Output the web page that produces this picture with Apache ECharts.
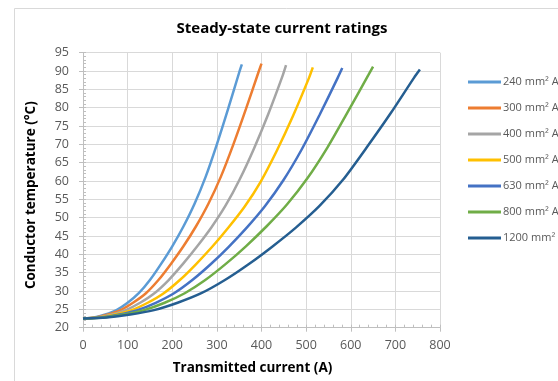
<!DOCTYPE html>
<html>
<head>
<meta charset="utf-8">
<script src="https://cdn.jsdelivr.net/npm/echarts@6/dist/echarts.min.js"></script>
<style>
  html, body {margin:0; padding:0; background:#fff;}
  #chart {width:558px; height:381px;}
</style>
</head>
<body>
<div id="chart"></div>
<script type="text/javascript">
// cable sizes shown in the legend
var cableNames = ['240 mm\u00b2 Al', '300 mm\u00b2 Al', '400 mm\u00b2 Al', '500 mm\u00b2 Al',
                  '630 mm\u00b2 Al', '800 mm\u00b2 Al', '1200 mm\u00b2 Al'];
var cableColors = ['#5b9bd5', '#ed7d31', '#a5a5a5', '#ffc000', '#4472c4', '#70ad47', '#255e91'];

// [current (A), conductor temperature (°C)]
var c240 = [[0,22.5],[25,22.8],[50,23.6],[75,24.8],[100,26.8],[125,29.4],[150,33.0],[175,37.4],
            [200,42.2],[225,47.6],[250,53.8],[275,61.2],[300,70.0],[325,79.6],[350,89.6],[356,91.8]];
var c300 = [[0,22.5],[28,22.8],[56,23.6],[84,24.8],[112,26.8],[141,29.4],[169,33.0],[197,37.4],
            [225,42.2],[253,47.6],[281,53.8],[309,61.2],[337,70.0],[365,79.6],[393,89.6],[400,92.0]];
var c400 = [[0,22.5],[32,22.8],[64,23.6],[96,24.8],[128,26.8],[160,29.4],[192,33.0],[224,37.4],
            [256,42.2],[288,47.4],[320,53.4],[351,60.4],[383,68.8],[415,78.2],[447,88.6],[455,91.6]];
var c500 = [[0,22.5],[36,22.8],[72,23.6],[109,24.8],[145,26.8],[181,29.4],[217,33.0],[253,37.3],
            [289,42.0],[325,47.2],[362,53.0],[398,59.8],[434,68.2],[470,77.6],[506,88.0],[515,91.0]];
var c630 = [[0,22.5],[41,22.8],[82,23.6],[122,24.8],[163,26.8],[204,29.4],[245,33.0],[286,37.3],
            [326,42.0],[367,47.3],[408,53.2],[449,60.2],[490,68.6],[530,78.0],[571,88.2],[581,90.8]];
var c800 = [[0,22.5],[46,22.8],[91,23.6],[137,24.8],[183,26.8],[228,29.4],[274,33.0],[320,37.4],
            [365,42.2],[411,47.6],[457,53.6],[502,60.6],[548,69.2],[593,78.8],[639,88.8],[650,91.2]];
var c1200 = [[0,22.5],[53,22.8],[106,23.6],[159,24.8],[212,26.8],[265,29.4],[318,33.0],[371,37.3],
             [424,42.1],[477,47.3],[530,53.2],[583,60.4],[636,69.2],[689,78.4],[742,88.2],[755,90.4]];
var cableData = [c240, c300, c400, c500, c630, c800, c1200];

var gridCol = '#d9d9d9';
var labCol = '#595959';
var fontName = 'Open Sans';

var chart = echarts.init(document.getElementById('chart'));

var seriesList = [];
for (var i = 0; i < cableData.length; i++) {
  seriesList.push({
    name: cableNames[i],
    type: 'line',
    data: cableData[i],
    xAxisIndex: 0,
    yAxisIndex: 0,
    smooth: 0.25,
    symbol: 'none',
    lineStyle: {width: 2.5, color: cableColors[i]},
    itemStyle: {color: cableColors[i]},
    animation: false
  });
}

var option = {
  animation: false,
  title: {
    text: 'Steady-state current ratings',
    left: 277, top: 16, textAlign: 'center',
    textStyle: {fontFamily: fontName, fontWeight: 'bold', fontSize: 15, color: '#000'}
  },
  graphic: [{
    type: 'rect', silent: true, z: -1,
    shape: {x: 14.5, y: 8.5, width: 620, height: 420},
    style: {fill: 'none', stroke: gridCol, lineWidth: 1}
  }],
  legend: {
    orient: 'vertical', left: 463, top: 71,
    icon: 'rect', itemWidth: 33, itemHeight: 3, itemGap: 14,
    textStyle: {
      fontFamily: fontName, fontSize: 11, color: labCol, lineHeight: 12,
      padding: [0, 0, 0, -3], width: 57, overflow: 'truncate', ellipsis: ''
    },
    data: cableNames
  },
  grid: {left: 83, top: 52.7, right: 118, bottom: 53.3, containLabel: false},
  xAxis: [{
    type: 'value', min: 0, max: 800, interval: 100, position: 'bottom',
    name: 'Transmitted current (A)', nameLocation: 'middle', nameGap: 33,
    nameTextStyle: {fontFamily: fontName, fontWeight: 'bold', fontSize: 13.5, color: '#000', padding: [0, 18, 0, 0]},
    axisLine: {show: true, lineStyle: {color: '#bfbfbf'}},
    axisTick: {show: true, length: 4, lineStyle: {color: '#bfbfbf'}},
    axisLabel: {fontFamily: fontName, fontSize: 12.5, color: labCol, margin: 11},
    splitLine: {show: true, lineStyle: {color: gridCol}}
  }, {
    type: 'value', min: 0, max: 800, interval: 20, position: 'bottom',
    axisLine: {show: false},
    axisTick: {show: true, inside: true, length: 3, lineStyle: {color: '#bfbfbf'}},
    axisLabel: {show: false},
    splitLine: {show: false}
  }],
  yAxis: [{
    type: 'value', min: 20, max: 95, interval: 5, position: 'left',
    name: 'Conductor temperature (\u00b0C)', nameLocation: 'middle', nameGap: 45,
    nameTextStyle: {fontFamily: fontName, fontWeight: 'bold', fontSize: 13.5, color: '#000', padding: [0, 10, 0, 0]},
    axisLine: {show: true, lineStyle: {color: '#bfbfbf'}},
    axisTick: {show: true, length: 4, lineStyle: {color: '#bfbfbf'}},
    axisLabel: {fontFamily: fontName, fontSize: 12.5, color: labCol, margin: 14},
    splitLine: {show: true, lineStyle: {color: gridCol}}
  }, {
    type: 'value', min: 20, max: 95, interval: 1, position: 'left',
    axisLine: {show: false},
    axisTick: {show: true, inside: true, length: 3, lineStyle: {color: '#bfbfbf'}},
    axisLabel: {show: false},
    splitLine: {show: false}
  }],
  series: seriesList
};

chart.setOption(option);
</script>
</body>
</html>
